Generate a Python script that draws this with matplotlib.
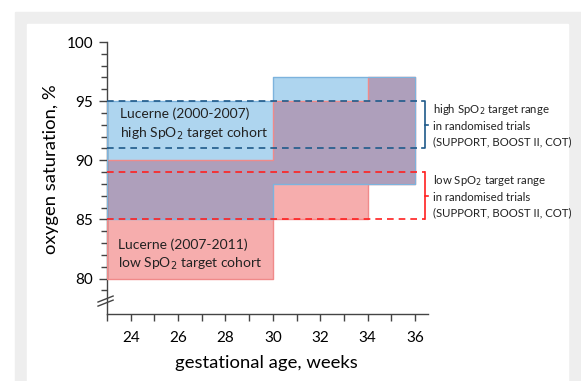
import numpy as np
import matplotlib.pyplot as plt
from matplotlib.patches import Rectangle
from matplotlib.ticker import FixedLocator

plt.rcParams['font.family'] = ['Lato', 'DejaVu Sans']

# gestational age step edges (weeks)
week_edges = [23, 30, 34, 36]
# Lucerne 2007-2011, low SpO2 target cohort
low_lo = [80, 85, 88]
low_hi = [90, 95, 97]
# Lucerne 2000-2007, high SpO2 target cohort
high_lo = [85, 88, 88]
high_hi = [95, 97, 97]
# target ranges in randomised trials
trial_high = [91, 95]
trial_low = [85, 89]

blue_fill = "#aed5ef"
blue_edge = "#7db3dd"
red_fill = "#f6adad"
red_edge = "#f08a8a"
purple = "#ae9fbb"
dark_blue = "#1f5a8a"
bright_red = "#ff2020"

fig = plt.figure(figsize=(5.81, 3.81), dpi=100)
# grey frame + white panel behind the chart
fig.patches.append(Rectangle((15 / 581, 0), 1, (381 - 12) / 381, transform=fig.transFigure,
                             color="#eeeeee", zorder=-10))
fig.patches.append(Rectangle((27 / 581, 0), (568 - 27) / 581, (381 - 24) / 381,
                             transform=fig.transFigure, color="white", zorder=-9))
fig.patch.set_facecolor("white")

ax = fig.add_axes([107 / 581, 1 - 314 / 381, (428 - 107) / 581, (314 - 42) / 381])
ax.set_facecolor("none")

x = np.array(week_edges)
def stepped(v):
    return np.append(v, v[-1])

lo_r, hi_r = stepped(low_lo), stepped(low_hi)
lo_b, hi_b = stepped(high_lo), stepped(high_hi)
ov_lo = np.maximum(lo_r, lo_b)
ov_hi = np.minimum(hi_r, hi_b)

ax.fill_between(x, lo_r, hi_r, step="post", color=red_fill, lw=0, zorder=1)
ax.fill_between(x, lo_b, hi_b, step="post", color=blue_fill, lw=0, zorder=1)
ax.fill_between(x, ov_lo, ov_hi, step="post", color=purple, lw=0, zorder=2)
# outlines
ax.fill_between(x, lo_r, hi_r, step="post", facecolor="none", edgecolor=red_edge, lw=1.0, zorder=3)
ax.fill_between(x, lo_b, hi_b, step="post", facecolor="none", edgecolor=blue_edge, lw=1.0, zorder=4)

# trial target ranges
x_end = 36.42
for yv in trial_high:
    ax.plot([23, 36.3], [yv, yv], color=dark_blue, lw=1.2, dashes=(4, 3), zorder=5, clip_on=False)
ax.plot([36.3, x_end, x_end, 36.3], [trial_high[1], trial_high[1], trial_high[0], trial_high[0]],
        color=dark_blue, lw=1.2, zorder=5, clip_on=False)
ax.plot([x_end, x_end + 0.12], [np.mean(trial_high)] * 2, color=dark_blue, lw=1.2, clip_on=False)

for yv in trial_low:
    ax.plot([23, x_end], [yv, yv], color=bright_red, lw=1.2, dashes=(4, 3), zorder=5, clip_on=False)
ax.plot([x_end, x_end], trial_low, color=bright_red, lw=1.2, zorder=5, clip_on=False)
ax.plot([x_end, x_end + 0.12], [np.mean(trial_low)] * 2, color=bright_red, lw=1.2, clip_on=False)

ax.text(36.76, np.mean(trial_high), "high SpO$_2$ target range\nin randomised trials\n(SUPPORT, BOOST II, COT)",
        fontsize=8.2, va="center", ha="left", linespacing=1.45, color="#222222", clip_on=False)
ax.text(36.76, np.mean(trial_low), "low SpO$_2$ target range\nin randomised trials\n(SUPPORT, BOOST II, COT)",
        fontsize=8.2, va="center", ha="left", linespacing=1.45, color="#222222", clip_on=False)

ax.text(23.55, 93.0, "Lucerne (2000-2007)\nhigh SpO$_2$ target cohort", fontsize=10,
        va="center", ha="left", linespacing=1.4, color="#222222", zorder=6)
ax.text(23.45, 82.0, "Lucerne (2007-2011)\nlow SpO$_2$ target cohort", fontsize=10,
        va="center", ha="left", linespacing=1.4, color="#222222", zorder=6)

ax.set_xlim(23, 36.55)
ax.set_ylim(77, 100)
ax.spines['right'].set_visible(False)
ax.spines['top'].set_visible(False)
for s in ['left', 'bottom']:
    ax.spines[s].set_color("#444444")
    ax.spines[s].set_linewidth(1.0)

ax.yaxis.set_major_locator(FixedLocator([80, 85, 90, 95, 100]))
ax.yaxis.set_minor_locator(FixedLocator([v for v in range(79, 100) if v % 5]))
ax.xaxis.set_major_locator(FixedLocator([24, 26, 28, 30, 32, 34, 36]))
ax.xaxis.set_minor_locator(FixedLocator([23, 25, 27, 29, 31, 33, 35]))
ax.tick_params(axis="y", which="major", length=6, width=1, color="#444444", labelsize=11, pad=4)
ax.tick_params(axis="y", which="minor", length=4, width=1, color="#444444")
ax.tick_params(axis="x", which="both", length=5, width=1, color="#444444", labelsize=11, pad=7)

# axis break marks (two slanted strokes across the y axis)
for y0 in (0.029, 0.044):
    ax.plot([-0.028, 0.019], [y0, y0 + 0.022], transform=ax.transAxes,
            color="#444444", lw=1.0, clip_on=False)

ax.set_ylabel("oxygen saturation, %", fontsize=13.3)
ax.yaxis.set_label_coords(-0.15, 0.533)
ax.set_xlabel("gestational age, weeks", fontsize=13.3)
ax.xaxis.set_label_coords(0.495, -0.15)

fig.savefig("out.png", dpi=100)
